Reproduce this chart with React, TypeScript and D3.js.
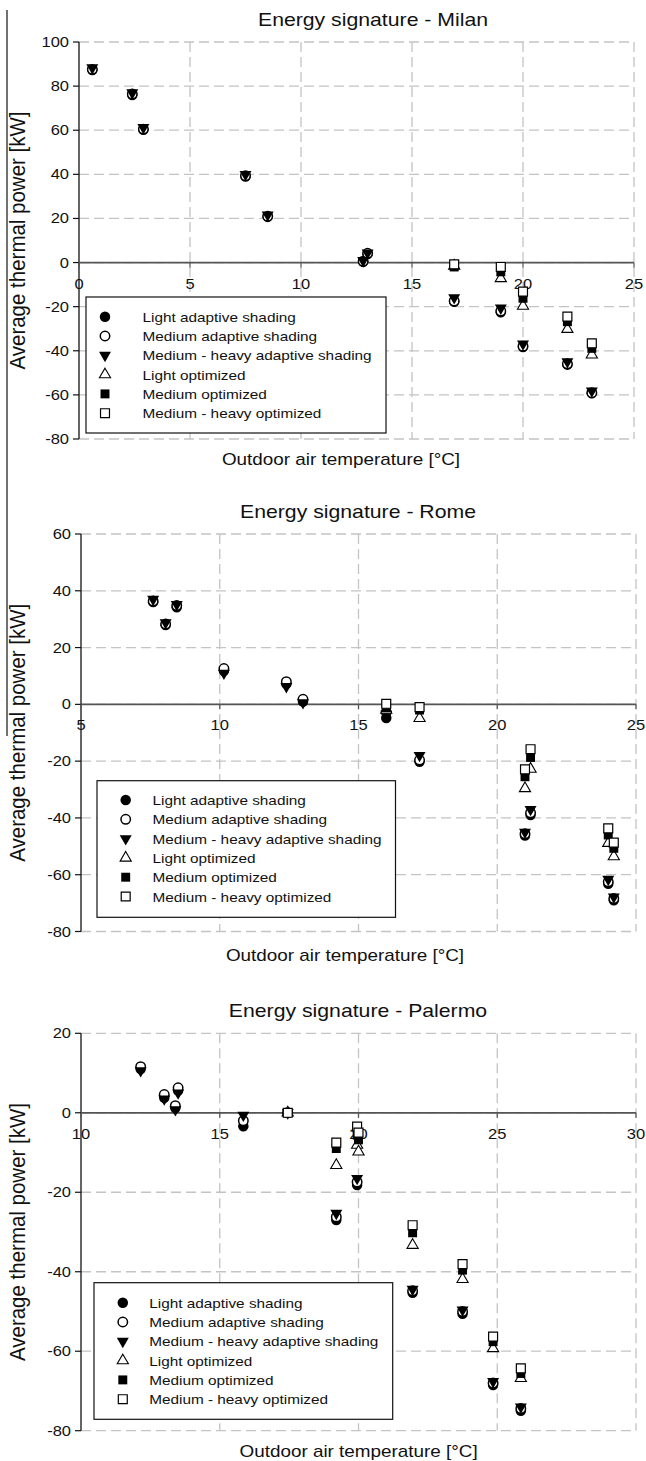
import * as d3 from "d3";
import React from "react";

// series names (legend order = drawing order)
const seriesNames = [
  "Light adaptive shading",
  "Medium adaptive shading",
  "Medium - heavy adaptive shading",
  "Light optimized",
  "Medium optimized",
  "Medium - heavy optimized",
];

// ---- Milan ----
const milanXTicks = [0, 5, 10, 15, 20, 25];
const milanYTicks = [-80, -60, -40, -20, 0, 20, 40, 60, 80, 100];
const milanAdaptiveX = [0.6, 2.4, 2.9, 7.5, 8.5, 12.8, 13.0, 16.9, 19.0, 20.0, 22.0, 23.1];
const milanLightAdaptive = [87.3, 76.0, 60.2, 39.0, 20.7, 0.3, 3.8, -17.8, -22.5, -38.3, -46.3, -59.3];
const milanMediumAdaptive = [87.6, 76.4, 60.5, 39.4, 21.0, 0.6, 4.2, -17.4, -22.0, -37.9, -45.9, -59.0];
const milanHeavyAdaptive = [88.3, 77.0, 61.2, 40.0, 21.6, 0.9, 4.4, -15.9, -20.6, -36.9, -44.9, -58.2];
const milanOptimizedX = [16.9, 19.0, 20.0, 22.0, 23.1];
const milanLightOptimized = [-1.5, -7.2, -19.7, -30.2, -41.8];
const milanMediumOptimized = [-2.0, -4.2, -16.2, -26.8, -38.9];
const milanHeavyOptimized = [-0.8, -2.0, -13.2, -24.5, -36.6];

// ---- Rome ----
const romeXTicks = [5, 10, 15, 20, 25];
const romeYTicks = [-80, -60, -40, -20, 0, 20, 40, 60];
const romeAdaptiveX = [7.6, 8.05, 8.45, 10.15, 12.4, 13.0, 16.0, 17.2, 21.0, 21.2, 24.0, 24.2];
const romeLightAdaptive = [36.0, 27.9, 34.2, 11.8, 7.2, 1.0, -4.8, -20.2, -46.2, -39.0, -63.2, -69.0];
const romeMediumAdaptive = [36.4, 28.3, 34.8, 12.6, 8.0, 1.8, -2.8, -19.6, -45.6, -38.2, -62.5, -68.4];
const romeHeavyAdaptive = [37.0, 28.8, 35.2, 11.0, 6.3, 0.6, -3.5, -18.0, -45.0, -37.0, -61.6, -67.8];
const romeOptimizedX = [16.0, 17.2, 21.0, 21.2, 24.0, 24.2];
const romeLightOptimized = [-2.0, -4.9, -29.6, -22.8, -48.9, -53.6];
const romeMediumOptimized = [-1.2, -2.0, -25.5, -18.7, -46.0, -50.7];
const romeHeavyOptimized = [0.2, -1.0, -22.9, -15.8, -43.7, -48.7];

// ---- Palermo ----
const palermoXTicks = [10, 15, 20, 25, 30];
const palermoYTicks = [-80, -60, -40, -20, 0, 20];
const palermoAdaptiveX = [12.15, 13.0, 13.4, 13.5, 15.85, 17.45, 19.2, 19.95, 21.95, 23.75, 24.85, 25.85];
const palermoLightAdaptive = [11.0, 3.8, 1.2, 5.6, -3.4, 0, -27.0, -18.2, -45.3, -50.6, -68.5, -75.0];
const palermoMediumAdaptive = [11.6, 4.6, 1.8, 6.3, -2.0, 0, -26.2, -17.4, -44.8, -50.0, -68.0, -74.4];
const palermoHeavyAdaptive = [10.6, 3.5, 0.8, 5.0, -0.6, 0, -25.3, -16.5, -44.4, -49.6, -67.6, -74.0];
const palermoOptimizedX = [17.45, 19.2, 19.95, 20.0, 21.95, 23.75, 24.85, 25.85];
const palermoLightOptimized = [0, -13.2, -8.1, -9.8, -33.3, -41.9, -59.3, -66.8];
const palermoMediumOptimized = [0, -9.0, -5.6, -6.8, -30.2, -39.6, -57.6, -65.6];
const palermoHeavyOptimized = [0, -7.5, -3.5, -5.0, -28.3, -38.1, -56.3, -64.3];

const FONT = "'Liberation Sans', Arial, sans-serif";
const SX = 1.18; // the figure is a bit wider than tall

const panels = [
  {
    title: "Energy signature - Milan",
    xTicks: milanXTicks, yTicks: milanYTicks,
    adaptiveX: milanAdaptiveX,
    adaptive: [milanLightAdaptive, milanMediumAdaptive, milanHeavyAdaptive],
    optimizedX: milanOptimizedX,
    optimized: [milanLightOptimized, milanMediumOptimized, milanHeavyOptimized],
    box: { left: 79, right: 634, top: 42, bottom: 439 },
    titlePos: [373, 26], xTitlePos: [341, 465],
    legend: { x: 86, y: 297, w: 300, h: 136, row0: 316.7, mx: 105, tx: 142.5 },
  },
  {
    title: "Energy signature - Rome",
    xTicks: romeXTicks, yTicks: romeYTicks,
    adaptiveX: romeAdaptiveX,
    adaptive: [romeLightAdaptive, romeMediumAdaptive, romeHeavyAdaptive],
    optimizedX: romeOptimizedX,
    optimized: [romeLightOptimized, romeMediumOptimized, romeHeavyOptimized],
    box: { left: 81, right: 636, top: 534, bottom: 931.5 },
    titlePos: [358, 518], xTitlePos: [345, 961],
    legend: { x: 97, y: 780.7, w: 298.5, h: 136.6, row0: 800, mx: 125.7, tx: 152.5 },
  },
  {
    title: "Energy signature - Palermo",
    xTicks: palermoXTicks, yTicks: palermoYTicks,
    adaptiveX: palermoAdaptiveX,
    adaptive: [palermoLightAdaptive, palermoMediumAdaptive, palermoHeavyAdaptive],
    optimizedX: palermoOptimizedX,
    optimized: [palermoLightOptimized, palermoMediumOptimized, palermoHeavyOptimized],
    box: { left: 81, right: 636, top: 1033.3, bottom: 1430.7 },
    titlePos: [358, 1016.7], xTitlePos: [358.6, 1456.7],
    legend: { x: 94, y: 1282.7, w: 298.7, h: 136.6, row0: 1302.7, mx: 122.8, tx: 149.2 },
  },
];

const circlePath = d3.symbol(d3.symbolCircle, 86)()!;
const openCirclePath = d3.symbol(d3.symbolCircle, 70)()!;
const downTrianglePath = d3.symbol(d3.symbolTriangle, 62)()!;
const trianglePath = d3.symbol(d3.symbolTriangle, 54)()!;
const squarePath = d3.symbol(d3.symbolSquare, 80)()!;

// marker per series index
const Marker = ({ kind, x, y }: { kind: number; x: number; y: number }) => {
  const t = `translate(${x},${y})`;
  if (kind === 0) return <path d={circlePath} transform={t} fill="#000" />;
  if (kind === 1) return <path d={openCirclePath} transform={t} fill="#fff" stroke="#000" strokeWidth={1.5} />;
  if (kind === 2) return <path d={downTrianglePath} transform={`${t} rotate(180)`} fill="#000" />;
  if (kind === 3) return <path d={trianglePath} transform={t} fill="#fff" stroke="#000" strokeWidth={1.1} />;
  if (kind === 4) return <path d={squarePath} transform={t} fill="#000" />;
  return <path d={squarePath} transform={t} fill="#fff" stroke="#000" strokeWidth={1.2} />;
};

const SText = (props: any) => {
  const { x, y, size, anchor, rotate, children } = props;
  return (
    <text
      transform={`translate(${x},${y}) scale(${SX},1)${rotate ? ` rotate(${rotate})` : ""}`}
      fontSize={size}
      textAnchor={anchor || "start"}
      fontFamily={FONT}
      fill="#111"
    >
      {children}
    </text>
  );
};

const Panel = ({ p }: { p: (typeof panels)[number] }) => {
  const { box } = p;
  const x = d3.scaleLinear().domain(d3.extent(p.xTicks) as [number, number]).range([box.left, box.right]);
  const y = d3.scaleLinear().domain(d3.extent(p.yTicks) as [number, number]).range([box.bottom, box.top]);
  const y0 = y(0);

  return (
    <g>
      {/* grid */}
      {p.yTicks.map((t) => (
        <line key={"gy" + t} x1={box.left} x2={box.right} y1={y(t)} y2={y(t)}
          stroke="#c4c4c4" strokeWidth={1.3} strokeDasharray="10,5" />
      ))}
      {p.xTicks.slice(1).map((t) => (
        <line key={"gx" + t} x1={x(t)} x2={x(t)} y1={box.top} y2={box.bottom}
          stroke="#c4c4c4" strokeWidth={1.3} strokeDasharray="10,5" />
      ))}

      {/* y axis */}
      <line x1={box.left} x2={box.left} y1={box.top} y2={box.bottom} stroke="#111" strokeWidth={1.3} />
      {p.yTicks.map((t) => (
        <g key={"ty" + t}>
          <line x1={box.left - 6} x2={box.left} y1={y(t)} y2={y(t)} stroke="#111" strokeWidth={1.2} />
          <SText x={box.left - 10} y={y(t) + 5} size={14} anchor="end">{t}</SText>
        </g>
      ))}

      {/* x axis at zero */}
      <line x1={box.left} x2={box.right} y1={y0} y2={y0} stroke="#555" strokeWidth={1.8} />
      {p.xTicks.map((t) => (
        <g key={"tx" + t}>
          <line x1={x(t)} x2={x(t)} y1={y0} y2={y0 + 5} stroke="#555" strokeWidth={1.2} />
          <SText x={x(t)} y={y0 + 26} size={14} anchor="middle">{t}</SText>
        </g>
      ))}

      {/* points */}
      {p.adaptive.map((vals, s) => (
        <g key={"a" + s}>
          {vals.map((v, i) => (
            <Marker key={i} kind={s} x={x(p.adaptiveX[i])} y={y(v)} />
          ))}
        </g>
      ))}
      {p.optimized.map((vals, s) => (
        <g key={"o" + s}>
          {vals.map((v, i) => (
            <Marker key={i} kind={s + 3} x={x(p.optimizedX[i])} y={y(v)} />
          ))}
        </g>
      ))}

      {/* legend */}
      <rect x={p.legend.x} y={p.legend.y} width={p.legend.w} height={p.legend.h}
        fill="#fff" stroke="#111" strokeWidth={1.2} />
      {seriesNames.map((name, i) => {
        const ry = p.legend.row0 + i * 19.3;
        return (
          <g key={name}>
            <Marker kind={i} x={p.legend.mx} y={ry} />
            <SText x={p.legend.tx} y={ry + 5} size={13}>{name}</SText>
          </g>
        );
      })}

      {/* titles */}
      <SText x={p.titlePos[0]} y={p.titlePos[1]} size={18} anchor="middle">{p.title}</SText>
      <SText x={p.xTitlePos[0]} y={p.xTitlePos[1]} size={16} anchor="middle">
        Outdoor air temperature [°C]
      </SText>
      <text
        transform={`translate(25,${(box.top + box.bottom) / 2}) scale(1.1,1) rotate(-90)`}
        fontSize={20.5}
        textAnchor="middle"
        fontFamily={FONT}
        fill="#111"
      >
        Average thermal power [kW]
      </text>
    </g>
  );
};

export default function App() {
  return (
    <svg
      width={646}
      height={1461}
      style={{ position: "absolute", left: 0, top: 0, background: "#fff" }}
    >
      <rect width={646} height={1461} fill="#fff" />
      <line x1={7} x2={7} y1={10} y2={736} stroke="#111" strokeWidth={1.2} />
      {panels.map((p) => (
        <Panel key={p.title} p={p} />
      ))}
    </svg>
  );
}
